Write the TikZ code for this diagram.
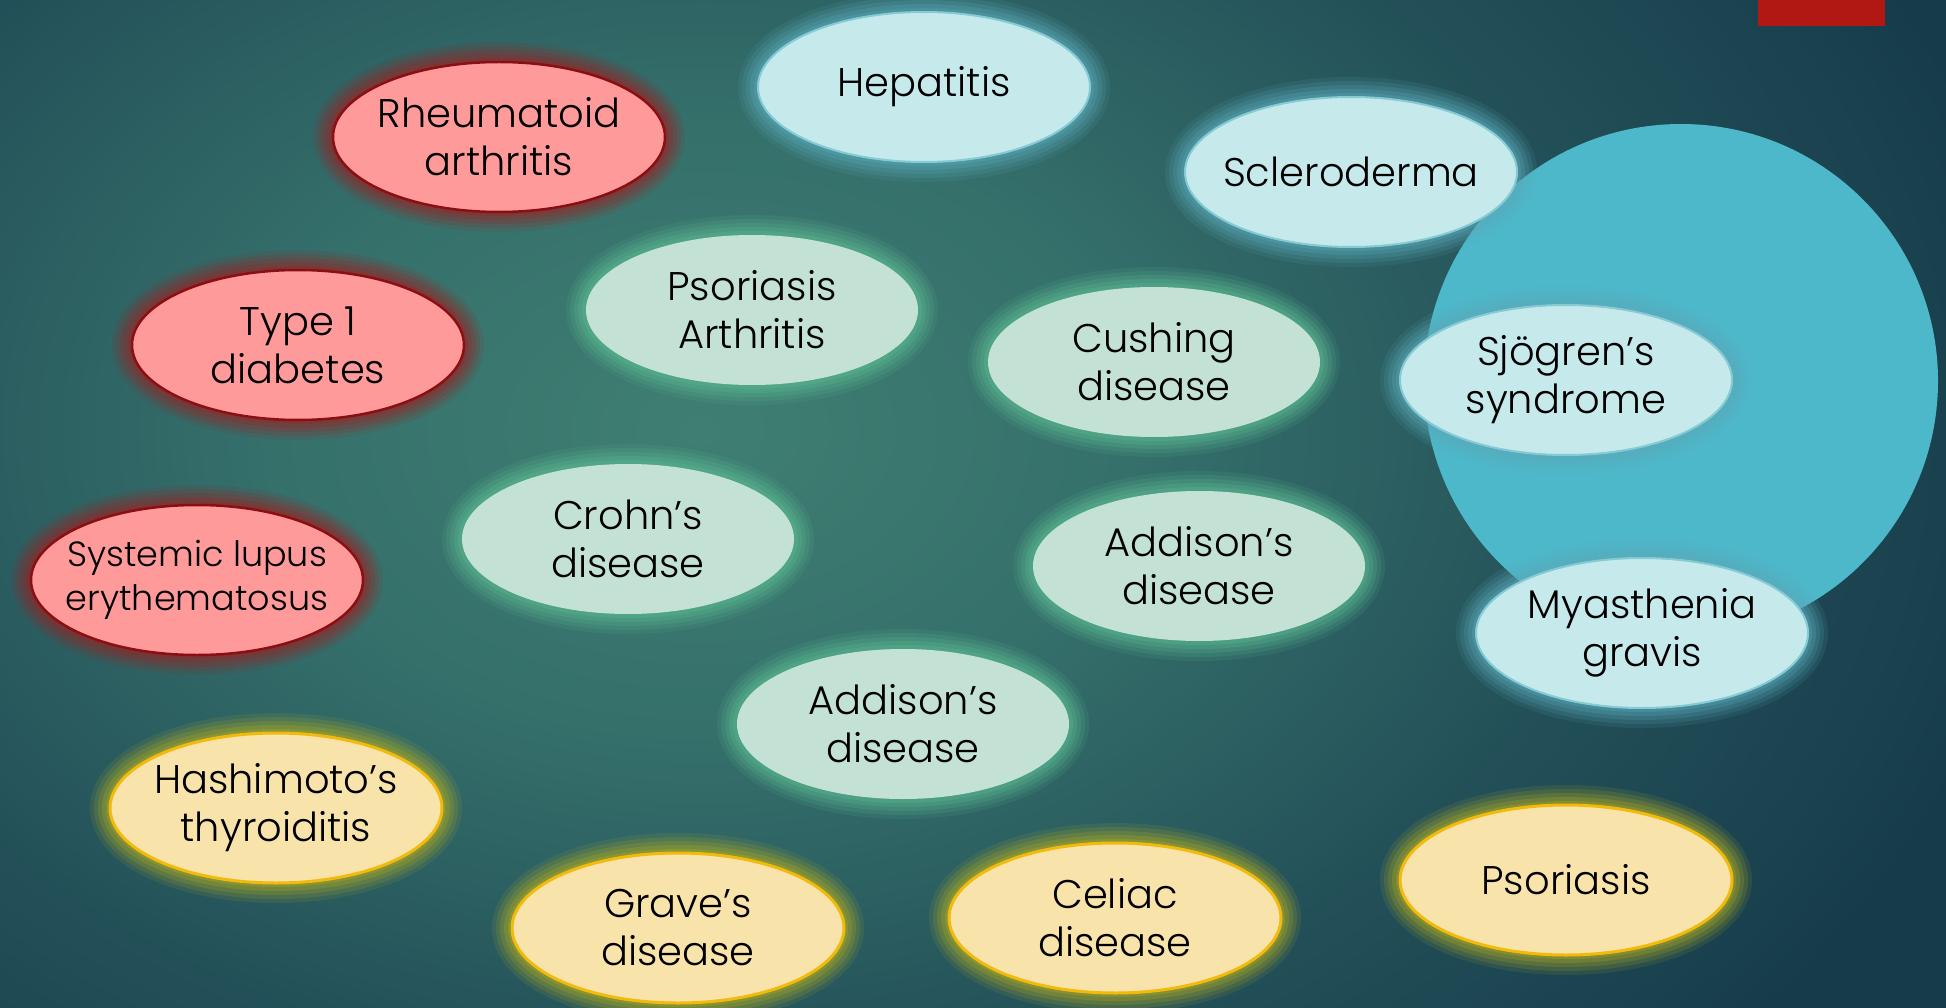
\documentclass[tikz,border=0pt]{standalone}
\usepackage{fontspec}
\setmainfont{Poppins}[UprightFont=* Light]
\usepackage{tikz}
\usetikzlibrary{shapes.geometric}

\definecolor{bgdark}{HTML}{163C4B}
\definecolor{bgmid}{HTML}{235058}
\definecolor{bgsoft}{HTML}{35706B}
\definecolor{bglight}{HTML}{3F7F72}
\definecolor{pinkfill}{HTML}{FF9A9A}
\definecolor{pinkline}{HTML}{8B0F12}
\definecolor{pinkglow}{HTML}{9A2222}
\definecolor{sandfill}{HTML}{F8E3AA}
\definecolor{sandline}{HTML}{F2BA0C}
\definecolor{sandglow}{HTML}{B3AE22}
\definecolor{mintfill}{HTML}{C3E2D5}
\definecolor{mintglow}{HTML}{5CBB92}
\definecolor{icefill}{HTML}{C6EAEC}
\definecolor{iceline}{HTML}{86CBD3}
\definecolor{iceglow}{HTML}{5AAABB}
\definecolor{pool}{HTML}{4DB8C9}
\definecolor{tabred}{HTML}{B11814}

\pgfdeclareradialshading{bgglow}{\pgfpoint{0bp}{0bp}}{color(0bp)=(bglight); color(8bp)=(bgsoft); color(17bp)=(bgmid); color(25bp)=(bgdark); color(50bp)=(bgdark)}

\tikzset{
  glow/.style={
    preaction={draw=#1, draw opacity=0.12, line width=40pt},
    preaction={draw=#1, draw opacity=0.16, line width=32pt},
    preaction={draw=#1, draw opacity=0.2, line width=24pt},
    preaction={draw=#1, draw opacity=0.25, line width=16pt},
    preaction={draw=#1, draw opacity=0.3, line width=8pt}},
  blob/.style={ellipse, minimum width=332pt, minimum height=150pt, inner sep=0pt},
  pinkblob/.style={blob, glow=pinkglow, fill=pinkfill, draw=pinkline, line width=2.5pt},
  sandblob/.style={blob, glow=sandglow, fill=sandfill, draw=sandline, line width=3pt},
  mintblob/.style={blob, glow=mintglow, fill=mintfill},
  iceblob/.style={blob, glow=iceglow, fill=icefill, draw=iceline, line width=2pt},
  every label/.style={align=center, text=black, font=\fontsize{40}{48}\selectfont}
}

\begin{document}
\begin{tikzpicture}[x=1pt, y=-1pt]
    \useasboundingbox (0,0) rectangle (1946,1008);

    % Background
    \fill[bgdark] (0,0) rectangle (1946,1008);
    \begin{scope}
        \clip (0,0) rectangle (1946,1008);
        \shade[shading=bgglow] (700,430) ellipse (1350pt and 950pt);
    \end{scope}
    \fill[tabred] (1758,0) rectangle (1885,26);
    \fill[pool] (1681,381) circle (257pt);

    % Red group
    \node[pinkblob, label={center:Rheumatoid\\arthritis}] (ra) at (499,137) {};
    \node[pinkblob, label={center:Type 1\\diabetes}] (t1d) at (298,345) {};
    \node[pinkblob, label={[font=\fontsize{35}{44}\selectfont]center:Systemic lupus\\erythematosus}] (sle) at (197,580) {};

    % Green group
    \node[mintblob, label={center:Psoriasis\\Arthritis}] (psa) at (752,310) {};
    \node[mintblob, label={center:Cushing\\disease}] (cush) at (1154,362) {};
    \node[mintblob, label={center:Crohn’s\\disease}] (crohn) at (628,539) {};
    \node[mintblob, label={center:Addison’s\\disease}] (addA) at (1199,566) {};
    \node[mintblob, label={center:Addison’s\\disease}] (addB) at (903,724) {};

    % Blue group
    \node[iceblob, label={center:Hepatitis}] (hep) at (924,87) {};
    \node[iceblob, label={center:Scleroderma}] (scl) at (1351,172) {};
    \node[iceblob, label={center:Sjögren’s\\syndrome}] (sjo) at (1566,380) {};
    \node[iceblob, label={center:Myasthenia\\gravis}] (myas) at (1642,633) {};

    % Yellow group
    \node[sandblob, label={center:Hashimoto’s\\thyroiditis}] (hashi) at (276,808) {};
    \node[sandblob, label={center:Grave’s\\disease}] (graves) at (678,928) {};
    \node[sandblob, label={center:Celiac\\disease}] (celiac) at (1115,918) {};
    \node[sandblob, label={center:Psoriasis}] (psor) at (1566,880) {};
\end{tikzpicture}
\end{document}
